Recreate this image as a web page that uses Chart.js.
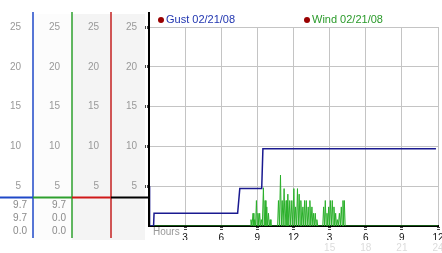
<!DOCTYPE html>
<html>
<head>
<meta charset="utf-8">
<script src="https://cdn.jsdelivr.net/npm/chart.js@4"></script>
<style>
  html, body { margin: 0; padding: 0; background: #fff; }
  #wrap { width: 442px; height: 253px; }
</style>
</head>
<body>
<div id="wrap"><canvas id="windChart" width="442" height="253"></canvas></div>
<script>
// gust, mph, hours since midnight
const gustHours  = [0, 0.05, 0.38, 0.42, 7.36, 7.54, 9.36, 9.46, 23.83];
const gustSpeeds = [5.0, 0, 0, 1.6, 1.6, 4.7, 4.7, 9.7, 9.7];

// wind readings (spiky, back to zero between readings)
const windHours = [
  0, 8.40, 8.47, 8.55, 8.64, 8.71, 8.78, 8.85, 8.92, 8.98, 9.05, 9.12, 9.19, 9.26, 9.33, 9.41,
  9.50, 9.57, 9.64, 9.71, 9.78, 9.85, 9.92, 9.99, 10.06, 10.13,
  10.68, 10.75, 10.83, 10.92, 10.99, 11.06, 11.14, 11.22, 11.30, 11.39, 11.46, 11.53, 11.61,
  11.69, 11.77, 11.86, 11.94, 12.03, 12.10, 12.17, 12.25, 12.33, 12.40, 12.47, 12.54, 12.61,
  12.69, 12.78, 12.85, 12.92, 12.99, 13.06, 13.14, 13.22, 13.29, 13.36, 13.44, 13.53, 13.60,
  13.67, 13.74, 13.81, 13.87, 13.94, 14.01,
  14.43, 14.50, 14.57, 14.64, 14.71, 14.78, 14.85, 14.92, 14.99, 15.06, 15.14, 15.22, 15.29,
  15.36, 15.43, 15.50, 15.57, 15.64, 15.72, 15.81, 15.89, 15.97, 16.04, 16.11, 16.16, 16.22,
  16.29, 24
];
const windSpeeds = [
  0, 0, 0.8, 0, 1.6, 0, 0.8, 0, 3.2, 0, 1.6, 0, 1.6, 0, 0.8, 0,
  4.8, 0, 3.2, 0, 2.4, 0, 1.6, 0, 0.8, 0,
  0, 3.2, 0, 6.4, 0, 3.2, 0, 4.7, 0, 3.2, 0, 4.0, 0,
  3.2, 0, 3.2, 0, 4.7, 0, 2.4, 0, 4.7, 0, 4.0, 0, 3.2,
  0, 2.4, 0, 3.2, 0, 3.2, 0, 2.4, 0, 3.2, 0, 2.4, 0,
  1.6, 0, 1.6, 0, 0.8, 0,
  0, 2.4, 0, 3.2, 0, 1.6, 0, 2.4, 0, 3.2, 0, 3.2, 0,
  2.4, 0, 1.6, 0, 0.8, 0, 1.6, 0, 2.4, 0, 3.2, 0, 3.2,
  0, 0
];

const hourLabels = ['', '3', '6', '9', '12', '3', '6', '9', '12'];
const dayHourLabels = ['', '', '', '', '', '15', '18', '21', '24'];
const gustStats = ['9.7', '9.7', '0.0'];
const windStats = ['9.7', '0.0', '0.0'];
const markerLevel = 3.7;

const FONT = 'Liberation Sans, Arial, sans-serif';

function toPoints(xs, ys) {
  return xs.map((x, i) => ({ x: x, y: ys[i] }));
}

function hideZero(v) {
  return v === 0 ? '' : v;
}

function panelAxis(weight, width) {
  return {
    type: 'linear',
    position: 'left',
    weight: weight,
    min: 0,
    max: 25,
    ticks: { stepSize: 5, padding: 12, color: '#999', font: { family: FONT, size: 10 }, callback: hideZero },
    grid: { display: false, drawTicks: false },
    border: { display: false },
    afterFit: function(s) { s.width = width; }
  };
}

const tickMark = function(ctx) {
  return ctx.index === 0 ? 'rgba(0,0,0,0)' : '#444';
};

// left panel + legend, drawn around the chart
const panelPlugin = {
  id: 'panel',
  beforeDraw: function(chart) {
    const c = chart.ctx;
    const s = chart.scales;
    c.save();
    c.fillStyle = '#fcfcfc';
    c.fillRect(s.yGreen.left, 14, s.yGreen.width, 226);
    c.fillStyle = '#f4f4f4';
    c.fillRect(s.yRed.left, 14, s.yRed.width + s.y.width - 4, 226);
    c.restore();
  },
  afterDraw: function(chart) {
    const c = chart.ctx;
    const s = chart.scales;
    const area = chart.chartArea;
    c.save();

    // column lines
    const cols = [[s.yBlue, '#1f48c8', 238], [s.yGreen, '#2ea02e', 238], [s.yRed, '#c42020', 238]];
    c.lineWidth = 1.5;
    cols.forEach(function(col) {
      c.strokeStyle = col[1];
      c.beginPath();
      c.moveTo(col[0].right, 12);
      c.lineTo(col[0].right, col[2]);
      c.stroke();
    });
    c.strokeStyle = '#000';
    c.lineWidth = 2;
    c.beginPath();
    c.moveTo(area.left, 12);
    c.lineTo(area.left, area.bottom);
    c.stroke();

    // level marker across the columns
    const my = Math.round(s.y.getPixelForValue(markerLevel)) + 0.5;
    const segs = [[0, s.yBlue.right, '#1f48c8'], [s.yBlue.right, s.yGreen.right, '#2ea02e'],
                  [s.yGreen.right, s.yRed.right, '#d01818'], [s.yRed.right, area.left + 1, '#000']];
    c.lineWidth = 2;
    segs.forEach(function(sg) {
      c.strokeStyle = sg[2];
      c.beginPath();
      c.moveTo(sg[0], my);
      c.lineTo(sg[1], my);
      c.stroke();
    });

    // stats
    c.font = '10px ' + FONT;
    c.fillStyle = '#8a8a8a';
    c.textAlign = 'right';
    c.textBaseline = 'middle';
    const y0 = s.y.getPixelForValue(0);
    [y0 - 21, y0 - 8, y0 + 5].forEach(function(ty, i) {
      c.fillText(gustStats[i], s.yBlue.right - 6, ty);
      c.fillText(windStats[i], s.yGreen.right - 6, ty);
    });

    // axis caption
    c.textAlign = 'left';
    c.fillStyle = '#999';
    c.fillText('Hours', area.left + 4, y0 + 6);

    // legend
    const legendX = [area.left + 12, area.left + 158];
    c.font = '11px ' + FONT;
    chart.data.datasets.forEach(function(ds, i) {
      c.fillStyle = '#990000';
      c.beginPath();
      c.arc(legendX[i], 20, 3, 0, Math.PI * 2);
      c.fill();
      c.fillStyle = ds.legendColor;
      c.fillText(ds.label, legendX[i] + 5, 20);
    });
    c.restore();
  }
};

new Chart(document.getElementById('windChart').getContext('2d'), {
  type: 'line',
  data: {
    datasets: [{
      label: 'Gust 02/21/08',
      data: toPoints(gustHours, gustSpeeds),
      borderColor: '#1a1a90',
      legendColor: '#2035b0',
      borderWidth: 1.5,
      pointRadius: 0,
      tension: 0
    }, {
      label: 'Wind 02/21/08',
      data: toPoints(windHours, windSpeeds),
      borderColor: '#2bb02b',
      legendColor: '#2a9a2a',
      borderWidth: 1,
      pointRadius: 0,
      tension: 0
    }]
  },
  options: {
    responsive: false,
    animation: false,
    layout: { padding: { top: 27, right: 4, left: 0, bottom: 0 } },
    plugins: { legend: { display: false }, tooltip: { enabled: false } },
    scales: {
      x: {
        type: 'linear',
        position: 'bottom',
        min: 0,
        max: 24,
        ticks: {
          stepSize: 3, autoSkip: false, maxRotation: 0, padding: 1, color: '#111',
          font: { family: FONT, size: 10 },
          callback: function(v, i) { return hourLabels[i]; }
        },
        grid: { color: '#c4c4c4', tickLength: 5, tickColor: tickMark, tickBorderDash: [1, 1], tickWidth: 3 },
        border: { color: '#000', width: 2 },
        afterFit: function(s) { s.height = 14; s.paddingLeft = 0; s.paddingRight = 0; }
      },
      x2: {
        type: 'linear',
        position: 'bottom',
        weight: 1,
        min: 0,
        max: 24,
        ticks: {
          stepSize: 3, autoSkip: false, maxRotation: 0, padding: 2, color: '#dcdcdc',
          font: { family: FONT, size: 10 },
          callback: function(v, i) { return dayHourLabels[i]; }
        },
        grid: { display: false, drawTicks: false },
        border: { display: false },
        afterFit: function(s) { s.height = 13; s.paddingLeft = 0; s.paddingRight = 0; }
      },
      yBlue: panelAxis(4, 33),
      yGreen: panelAxis(3, 39),
      yRed: panelAxis(2, 39),
      y: {
        type: 'linear',
        position: 'left',
        weight: 1,
        min: 0,
        max: 25,
        ticks: { stepSize: 5, padding: 8, color: '#999', font: { family: FONT, size: 10 }, callback: hideZero },
        grid: { color: '#c4c4c4', tickLength: 4, tickColor: tickMark, tickBorderDash: [1, 1], tickWidth: 3 },
        border: { color: '#000', width: 2 },
        afterFit: function(s) { s.width = 38; }
      }
    }
  },
  plugins: [panelPlugin]
});
</script>
</body>
</html>
